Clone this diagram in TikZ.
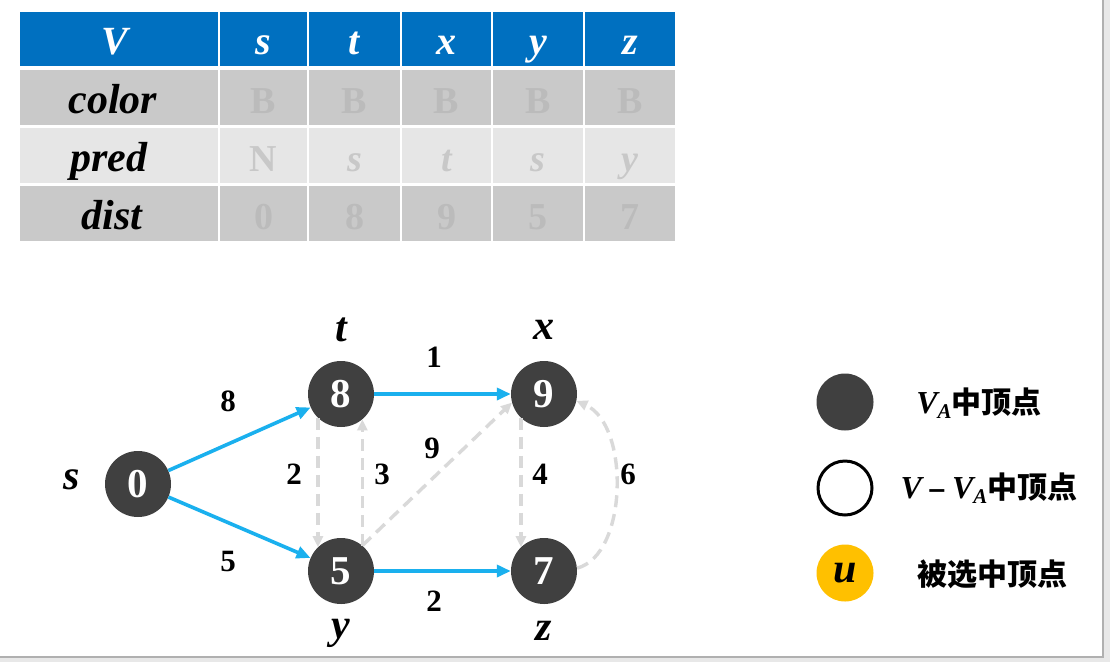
\documentclass[tikz,border=0pt]{standalone}
\usepackage{fontspec}
\setmainfont{Liberation Serif}
\newfontfamily\cjk{Noto Sans CJK SC}
\newfontfamily\djv{DejaVu Sans}
\usetikzlibrary{arrows.meta}
\definecolor{hdr}{HTML}{0070C0}
\definecolor{rowA}{HTML}{C9C9C9}
\definecolor{rowB}{HTML}{E6E6E6}
\definecolor{faintA}{HTML}{BBBBBB}
\definecolor{faintB}{HTML}{C8C8C8}
\definecolor{vdark}{HTML}{404040}
\definecolor{eblue}{HTML}{1AB0EE}
\definecolor{egray}{HTML}{D9D9D9}
\definecolor{ugold}{HTML}{FFC000}
\definecolor{bgout}{HTML}{E8E8E8}
\definecolor{frameg}{HTML}{B0B0B0}
\begin{document}
\begin{tikzpicture}[x=1pt,y=-1pt,
  cell/.style={rectangle,inner sep=0pt,anchor=center,text height=36pt,text depth=5pt},
  hdrcell/.style={cell,fill=hdr,text=white,minimum height=54pt,font=\fontsize{40}{40}\selectfont\bfseries\itshape},
  labA/.style={cell,fill=rowA,text=black,minimum height=55pt,font=\fontsize{42}{42}\selectfont\bfseries\itshape},
  labB/.style={cell,fill=rowB,text=black,minimum height=55pt,font=\fontsize{42}{42}\selectfont\bfseries\itshape},
  valA/.style={cell,fill=rowA,text=faintA,minimum height=55pt,font=\fontsize{38}{38}\selectfont\bfseries},
  valB/.style={cell,fill=rowB,text=faintB,minimum height=55pt,font=\fontsize{38}{38}\selectfont\bfseries},
  vtx/.style={circle,fill=vdark,inner sep=0pt,minimum size=66pt,text=white,font=\fontsize{41}{41}\selectfont\bfseries},
  vname/.style={inner sep=0pt,font=\fontsize{42}{42}\selectfont\bfseries\itshape},
  wlab/.style={inner sep=0pt,font=\fontsize{31}{31}\selectfont\bfseries},
  bedge/.style={draw=eblue,line width=3.6pt,-{Triangle[length=14pt,width=12pt]}},
  gedge/.style={draw=egray,line width=3.4pt,dash pattern=on 12pt off 7pt,-{Triangle[length=11pt,width=10pt]}},
  legtext/.style={inner sep=0pt,font=\fontsize{30}{30}\selectfont\bfseries}
]
\useasboundingbox (0,0) rectangle (1110,662);
\fill[bgout] (0,0) rectangle (1110,662);
\fill[white] (0,0) rectangle (1102,656);
\draw[frameg,line width=2pt] (1103,0) -- (1103,657) -- (0,657);

% table
\node[hdrcell,minimum width=198pt] (h0) at (119,39) {\hspace*{-8pt}V};
\node[labA,minimum width=198pt] (a0) at (119,97.5) {\hspace*{-12pt}color};
\node[labB,minimum width=198pt] (b0) at (119,155.5) {\hspace*{-20pt}pred};
\node[labA,minimum width=198pt] (c0) at (119,213.5) {\hspace*{-14pt}dist};
\foreach \i/\cx/\w/\hd/\cv/\dv in {1/263.5/87/s/B/0,2/354.5/91/t/B/8,3/446.5/89/x/B/9,4/538/90/y/B/5,5/630/90/z/B/7}{
  \node[hdrcell,minimum width=\w pt] (h\i) at (\cx,39) {\hd};
  \node[valA,minimum width=\w pt] (a\i) at (\cx,97.5) {\cv};
  \node[valA,minimum width=\w pt] (c\i) at (\cx,213.5) {\dv};
}
\node[valB,minimum width=87pt] (b1) at (263.5,155.5) {N};
\node[valB,minimum width=91pt,font=\fontsize{38}{38}\selectfont\bfseries\itshape] (b2) at (354.5,155.5) {s};
\node[valB,minimum width=89pt,font=\fontsize{38}{38}\selectfont\bfseries\itshape] (b3) at (446.5,155.5) {t};
\node[valB,minimum width=90pt,font=\fontsize{38}{38}\selectfont\bfseries\itshape] (b4) at (538,155.5) {s};
\node[valB,minimum width=90pt,font=\fontsize{38}{38}\selectfont\bfseries\itshape] (b5) at (630,155.5) {y};
\fill[white] (20,66) rectangle (675,70);

% graph
\node[vtx] (s) at (138,484) {0};
\node[vtx] (t) at (341,394) {8};
\node[vtx] (x) at (544,394) {9};
\node[vtx] (y) at (341,571) {5};
\node[vtx] (z) at (544,571) {7};
\node[vname] (ls) at (72,480) {s};
\node[vname] (lt) at (341,330) {t};
\node[vname] (lx) at (544,330) {x};
\node[vname] (ly) at (341,633) {y};
\node[vname] (lz) at (544,631) {z};

\draw[gedge] (t.226) -- (y.134);
\draw[gedge] (y.50) -- (t.310);
\draw[gedge] (y.50) -- (x.195);
\draw[gedge] (x.226) -- (z.134);
\draw[gedge] (z.5) .. controls (628,555) and (630,425) .. (x.-12);

\draw[bedge] (s) -- (t);
\draw[bedge] (s) -- (y);
\draw[bedge] (t) -- (x);
\draw[bedge] (y) -- (z);

\node[wlab] (w1) at (228,401) {8};
\node[wlab] (w2) at (228,561) {5};
\node[wlab] (w3) at (434,357) {1};
\node[wlab] (w4) at (434,601) {2};
\node[wlab] (w5) at (294,474) {2};
\node[wlab] (w6) at (382,474) {3};
\node[wlab] (w7) at (432,448) {9};
\node[wlab] (w8) at (540,474) {4};
\node[wlab] (w9) at (628,474) {6};

% legend
\node[circle,fill=vdark,inner sep=0pt,minimum size=57pt] (l1) at (845,402) {};
\node[circle,draw=black,line width=3pt,inner sep=0pt,minimum size=54pt] (l2) at (845,488) {};
\node[circle,fill=ugold,inner sep=0pt,minimum size=57pt,font=\fontsize{42}{42}\selectfont\bfseries\itshape] (l3) at (845,573) {u};
\node[legtext] (t1) at (979,403) {\fontsize{32}{32}\selectfont\itshape V\raisebox{-0.3ex}{\fontsize{21}{21}\selectfont A}\upshape\fontsize{30}{30}\selectfont\cjk\bfseries 中顶点};
\node[legtext] (t2) at (989,488) {\fontsize{32}{32}\selectfont\itshape V\upshape\hspace{5pt}{\djv\fontsize{24}{24}\selectfont −}\hspace{5pt}\itshape V\raisebox{-0.3ex}{\fontsize{21}{21}\selectfont A}\upshape\fontsize{30}{30}\selectfont\cjk\bfseries 中顶点};
\node[legtext] (t3) at (992,574) {\cjk\bfseries 被选中顶点};
\end{tikzpicture}
\end{document}
